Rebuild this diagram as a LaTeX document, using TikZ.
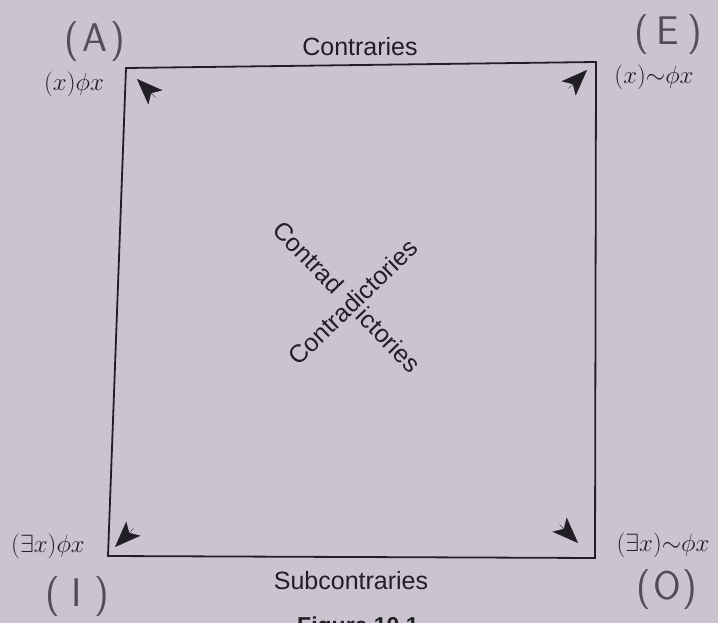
\documentclass[tikz,border=0pt]{standalone}
\usepackage{fontspec}
\setmainfont{Liberation Sans}
\usetikzlibrary{arrows.meta}
\definecolor{paper}{RGB}{201,196,207}
\definecolor{ink}{RGB}{34,30,38}
\definecolor{pencil}{RGB}{82,77,88}
\begin{document}
\begin{tikzpicture}[x=1pt,y=-1pt,
  sq/.style={draw=ink, line width=1.8pt, line join=miter},
  tip/.style={draw=ink, fill=ink, line width=0.3pt, -{Stealth[length=26pt,width=20pt,inset=6pt]}},
  lbl/.style={text=ink, inner sep=0pt, font=\fontsize{25}{30}\selectfont},
  formula/.style={text=ink, inner sep=0pt, font=\fontsize{24}{28}\selectfont},
  hand/.style={text=pencil, inner sep=0pt, font=\sffamily\fontsize{40}{46}\selectfont}]
\fill[paper] (0,0) rectangle (718,623);
\useasboundingbox (0,0) rectangle (718,623);
\clip (0,0) rectangle (718,623);

% square corners
\coordinate (TL) at (126,68);
\coordinate (TR) at (596,62);
\coordinate (BR) at (595,558);
\coordinate (BL) at (108,556);
\draw[sq] (TL) -- (TR) -- (BR) -- (BL) -- cycle;

% arrowheads of the diagonals
\coordinate (tlTail) at (155.5,97.5);  \coordinate (tlTip) at (137,79);
\coordinate (trTail) at (568.5,88.5);  \coordinate (trTip) at (587,70);
\coordinate (blTail) at (133.5,528.5); \coordinate (blTip) at (115,547);
\coordinate (brTail) at (559.5,524.5); \coordinate (brTip) at (578,543);
\draw[tip] (tlTail) -- (tlTip);
\draw[tip] (trTail) -- (trTip);
\draw[tip] (blTail) -- (blTip);
\draw[tip] (brTail) -- (brTip);

% side labels
\node[lbl] (contr) at (360,47) {Contraries};
\node[lbl] (subc) at (351,581) {Subcontraries};

% diagonal labels
\node[lbl, rotate=44] (diagA) at (353,302) {Contradictories};
\node[lbl, rotate=-46] (diagB) at (347,297) {Contrad\hspace{31pt}ictories};

% corner formulas
\node[formula] (fA) at (74,84) {$(x)\phi x$};
\node[formula] (fE) at (654,77) {$(x){\sim}\phi x$};
\node[formula] (fI) at (48,546) {$(\exists x)\phi x$};
\node[formula] (fO) at (663,545) {$(\exists x){\sim}\phi x$};

% handwritten letters
\node[hand] (hA) at (95,42) {(\kern3pt A\kern3pt)};
\node[hand] (hE) at (668,35) {(\kern8pt E\kern8pt)};
\node[hand] (hI) at (77,597) {(\kern12pt I\kern12pt)};
\node[hand] (hO) at (667,590) {(\kern2pt O\kern2pt)};

% caption (cut by the page edge)
\node[text=ink, inner sep=0pt, anchor=base west, font=\bfseries\fontsize{23}{28}\selectfont] (cap) at (297,633) {Figure 10.1};
\end{tikzpicture}
\end{document}
